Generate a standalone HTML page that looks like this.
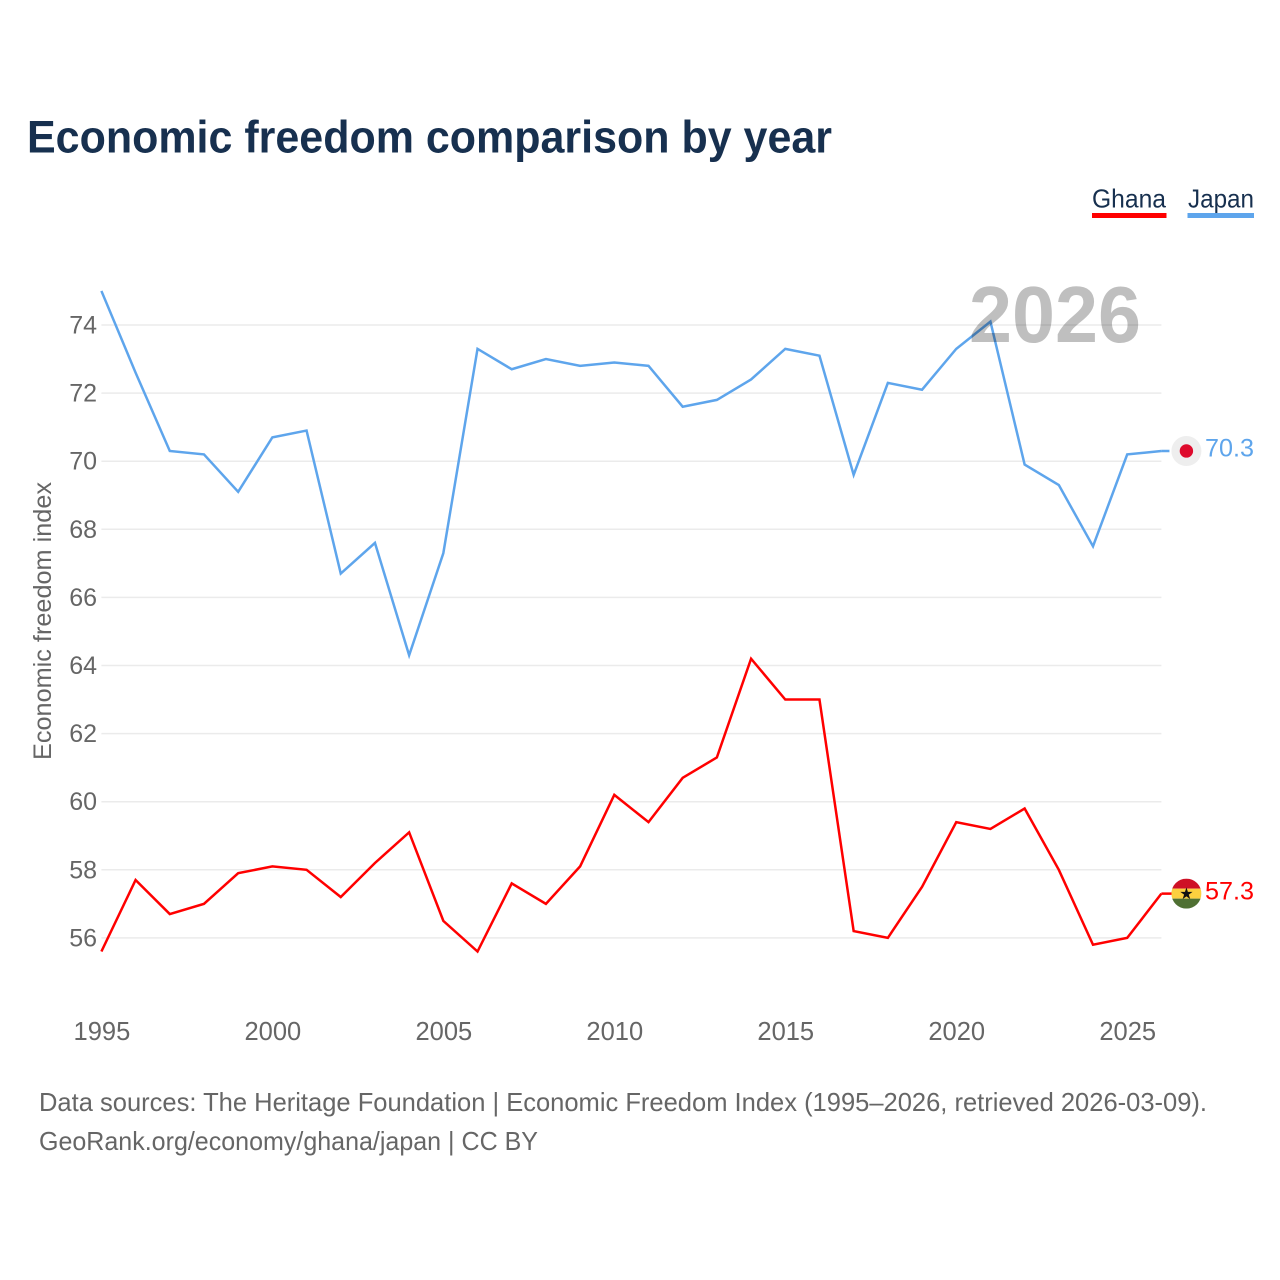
<!DOCTYPE html>
<html lang="en">
<head>
<meta charset="utf-8">
<title>Economic freedom comparison by year</title>
<style>
html,body{margin:0;padding:0;background:#fff;}
svg{display:block;font-family:"Liberation Sans",sans-serif;}
</style>
</head>
<body>
<svg id="chart" xmlns="http://www.w3.org/2000/svg" width="1280" height="1280" viewBox="0 0 1280 1280">
  <rect width="1280" height="1280" fill="#fff"/>
  <text x="27" y="152.5" font-size="45" font-weight="700" fill="#17304f" textLength="805" lengthAdjust="spacingAndGlyphs">Economic freedom comparison by year</text>

  <text x="1092" y="207.5" font-size="26" fill="#17304f" textLength="74" lengthAdjust="spacingAndGlyphs">Ghana</text>
  <rect x="1092" y="213" width="74.5" height="5" fill="#ff0000"/>
  <text x="1188" y="207.5" font-size="26" fill="#17304f" textLength="66" lengthAdjust="spacingAndGlyphs">Japan</text>
  <rect x="1187.5" y="213" width="66.5" height="5" fill="#5ea5ec"/>

  <g id="grid"></g>
  <g id="y-ticks"></g>
  <g id="x-ticks"></g>
  <text transform="translate(51,621) rotate(-90)" text-anchor="middle" font-size="25" fill="#666" textLength="278" lengthAdjust="spacingAndGlyphs">Economic freedom index</text>

  <g id="series"></g>
  <text x="1141" y="342" text-anchor="end" font-size="80" font-weight="700" fill="#000" fill-opacity="0.25" textLength="172" lengthAdjust="spacingAndGlyphs">2026</text>
  <g id="end-markers"></g>

  <text x="39" y="1111" font-size="26" fill="#666" textLength="1168" lengthAdjust="spacingAndGlyphs">Data sources: The Heritage Foundation | Economic Freedom Index (1995–2026, retrieved 2026-03-09).</text>
  <text x="39" y="1150" font-size="26" fill="#666" textLength="499" lengthAdjust="spacingAndGlyphs">GeoRank.org/economy/ghana/japan | CC BY</text>
</svg>
<script>
var years = [1995,1996,1997,1998,1999,2000,2001,2002,2003,2004,2005,2006,2007,2008,2009,2010,2011,2012,2013,2014,2015,2016,2017,2018,2019,2020,2021,2022,2023,2024,2025,2026];
var ghanaValues = [55.6,57.7,56.7,57.0,57.9,58.1,58.0,57.2,58.2,59.1,56.5,55.6,57.6,57.0,58.1,60.2,59.4,60.7,61.3,64.2,63.0,63.0,56.2,56.0,57.5,59.4,59.2,59.8,58.0,55.8,56.0,57.3];
var japanValues = [75.0,72.6,70.3,70.2,69.1,70.7,70.9,66.7,67.6,64.3,67.3,73.3,72.7,73.0,72.8,72.9,72.8,71.6,71.8,72.4,73.3,73.1,69.6,72.3,72.1,73.3,74.1,69.9,69.3,67.5,70.2,70.3];
var yTickValues = [56,58,60,62,64,66,68,70,72,74];
var xTickValues = [1995,2000,2005,2010,2015,2020,2025];

var NS = 'http://www.w3.org/2000/svg';
function xScale(year){ return 101.4 + (year - 1995) * (1161.4 - 101.4) / 31; }
function yScale(v){ return 937.9 - (v - 56) * (937.9 - 325) / 18; }
function make(tag, attrs, parent){
  var el = document.createElementNS(NS, tag);
  for (var k in attrs) el.setAttribute(k, attrs[k]);
  parent.appendChild(el);
  return el;
}
function linePoints(values){
  return values.map(function(v, i){ return xScale(years[i]).toFixed(2) + ',' + yScale(v).toFixed(2); }).join(' ');
}

var gridGroup = document.getElementById('grid');
var yGroup = document.getElementById('y-ticks');
yTickValues.forEach(function(v){
  var g = make('line', {x1: xScale(1995), x2: xScale(2026), y1: yScale(v), y2: yScale(v), stroke: '#ebebeb', 'stroke-width': 1.5}, gridGroup);
  
  
  var t = make('text', {x: 97, y: yScale(v) + 8.5, 'text-anchor': 'end', 'font-size': 25, fill: '#666'}, yGroup);
  
  
  t.textContent = String(v);
});

var xGroup = document.getElementById('x-ticks');
xTickValues.forEach(function(y){
  var t = make('text', {x: xScale(y) + 0.5, y: 1040, 'text-anchor': 'middle', 'font-size': 25.5, fill: '#666'}, xGroup);
  
  
  t.textContent = String(y);
});

var seriesGroup = document.getElementById('series');
var ghanaLine = make('polyline', {points: linePoints(ghanaValues), fill: 'none', stroke: '#ff0000', 'stroke-width': 2.5, 'stroke-linejoin': 'miter'}, seriesGroup);


var japanLine = make('polyline', {points: linePoints(japanValues), fill: 'none', stroke: '#5ea5ec', 'stroke-width': 2.5, 'stroke-linejoin': 'miter'}, seriesGroup);



var markers = document.getElementById('end-markers');
var fx = xScale(2026) + 25;
var lastJapan = japanValues[japanValues.length - 1];
var lastGhana = ghanaValues[ghanaValues.length - 1];
var jy = yScale(lastJapan);
var gy = yScale(lastGhana);

var japanConnector = make('line', {x1: xScale(2026), x2: fx, y1: jy, y2: jy, stroke: '#5ea5ec', 'stroke-width': 2.5}, markers);


var ghanaConnector = make('line', {x1: xScale(2026), x2: fx, y1: gy, y2: gy, stroke: '#ff0000', 'stroke-width': 2.5}, markers);



var japanHalo = make('circle', {cx: fx, cy: jy, r: 17, fill: '#fff'}, markers);


var japanFlag = make('circle', {cx: fx, cy: jy, r: 15, fill: '#eeeeee'}, markers);


var japanDisc = make('circle', {cx: fx, cy: jy, r: 6.7, fill: '#de0a2c'}, markers);



var clip = make('clipPath', {id: 'ghana-clip'}, markers);
make('circle', {cx: fx, cy: gy, r: 15}, clip);
var ghanaFlag = make('g', {'clip-path': 'url(#ghana-clip)'}, markers);


make('rect', {x: fx - 15, y: gy - 15, width: 30, height: 10, fill: '#ce1126'}, ghanaFlag);
make('rect', {x: fx - 15, y: gy - 5, width: 30, height: 10, fill: '#fcd03f'}, ghanaFlag);
make('rect', {x: fx - 15, y: gy + 5, width: 30, height: 10, fill: '#4f7033'}, ghanaFlag);
var star = make('text', {x: fx, y: gy + 5.5, 'text-anchor': 'middle', 'font-size': 16, fill: '#111'}, ghanaFlag);
star.setAttribute('font-family', '"DejaVu Sans",sans-serif');
star.textContent = '★';

var japanLabel = make('text', {x: 1205, y: jy + 5.5, 'font-size': 25, fill: '#5ea5ec', textLength: 49, lengthAdjust: 'spacingAndGlyphs'}, markers);


japanLabel.textContent = lastJapan.toFixed(1);
var ghanaLabel = make('text', {x: 1205, y: gy + 6, 'font-size': 25, fill: '#ff0000', textLength: 49, lengthAdjust: 'spacingAndGlyphs'}, markers);


ghanaLabel.textContent = lastGhana.toFixed(1);
</script>
</body>
</html>
